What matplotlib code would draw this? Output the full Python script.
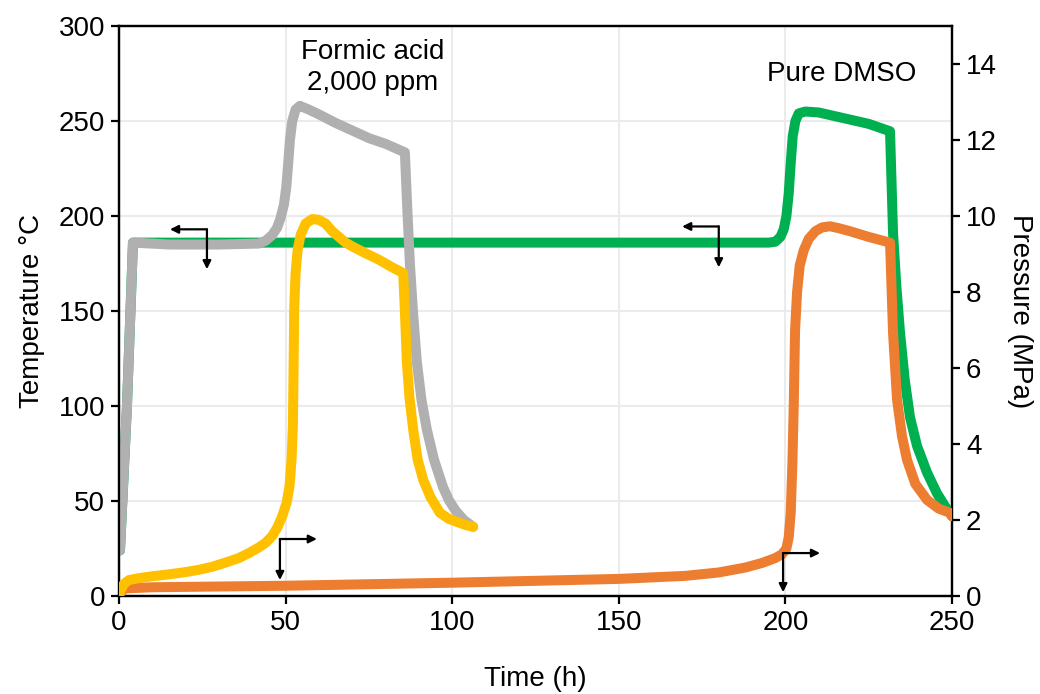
import matplotlib
matplotlib.use("Agg")
import matplotlib.pyplot as plt

# ---------------- data ----------------
# Formic acid 2,000 ppm - temperature (°C)
fa_temp_t = [0.3, 2.4, 4.2, 15, 30, 42, 44, 46, 47.5, 48.5, 49.5, 50.2, 50.8, 51.3, 52, 53, 54.3,
             57, 60, 65, 70, 75, 80, 85.8,
             86.5, 87.3, 88.3, 89.4, 90.8, 92.4, 94.5, 97.2, 99, 101, 103.5, 106.3]
fa_temp_v = [24, 100, 186, 185, 185, 185.5, 187, 190, 194, 199, 206, 215, 228, 240, 250, 256, 258,
             256, 253.5, 249, 245, 241, 238, 233.5,
             205, 175, 148, 123, 103, 87.5, 72, 57.5, 50.5, 45, 40, 36.4]
# Formic acid 2,000 ppm - pressure (MPa)
fa_pres_t = [0, 0.5, 1.5, 3, 6, 10, 15, 20, 24, 28, 32, 36, 39, 42, 44, 46, 47.5, 49, 50.3, 51.2,
             51.8, 52.2, 52.4, 52.6, 53.0, 53.6, 54.5, 56, 58, 60, 62, 64, 66, 68, 70, 74, 78, 82,
             85.3, 85.8, 86.4, 87.2, 88.3, 89.6, 91.3, 93.5, 96.3, 99, 101.4, 104, 106.3]
fa_pres_v = [0.0, 0.15, 0.32, 0.42, 0.47, 0.52, 0.57, 0.63, 0.69, 0.77, 0.88, 1.0, 1.13, 1.28, 1.4,
             1.58, 1.8, 2.1, 2.45, 2.9, 3.6, 4.5, 6.0, 7.6, 8.5, 9.1, 9.5, 9.8, 9.92, 9.9, 9.8, 9.6,
             9.45, 9.3, 9.2, 9.02, 8.85, 8.65,
             8.5, 7.5, 6.14, 5.2, 4.38, 3.6, 3.06, 2.6, 2.19, 2.03, 1.95, 1.87, 1.82]
# Pure DMSO - temperature (°C)
dm_temp_t = [0.3, 2.4, 4.2, 50, 100, 150, 195, 197, 198.5, 199.5, 200.3, 201, 201.6, 202.2, 203,
             204, 206, 210, 215, 220, 225, 231.4,
             232.3, 233.3, 234.4, 235.8, 237.4, 239.5, 242.5, 245.5, 248, 250]
dm_temp_v = [24, 100, 186, 186, 186, 186, 186, 186.5, 189, 193, 200, 212, 228, 242, 250,
             254, 255, 254.5, 252.5, 250.5, 248.5, 244.6,
             191, 163, 138.6, 114, 94, 79, 65, 54, 47, 42]
# Pure DMSO - pressure (MPa)
dm_pres_t = [0, 0.5, 2, 10, 50, 100, 150, 170, 180, 188, 193, 197, 199, 200.3, 201, 201.6, 202.1,
             202.5, 202.9, 203.5, 204.3, 205.5, 207, 209, 211, 213.4, 216, 219.4, 225, 231.4,
             232.3, 233.5, 235, 236.5, 239, 242.5, 246, 249.4, 250]
dm_pres_v = [0.0, 0.12, 0.2, 0.23, 0.27, 0.35, 0.45, 0.53, 0.62, 0.75, 0.87, 1.0, 1.1, 1.25, 1.55,
             2.2, 3.5, 5.0, 7.0, 8.0, 8.7, 9.1, 9.4, 9.6, 9.7, 9.73, 9.68, 9.6, 9.45, 9.3,
             6.93, 5.17, 4.2, 3.58, 2.95, 2.53, 2.3, 2.19, 2.1]

x_ticks = [0, 50, 100, 150, 200, 250]
t_ticks = [0, 50, 100, 150, 200, 250, 300]
p_ticks = [0, 2, 4, 6, 8, 10, 12, 14]

# ---------------- style ----------------
plt.rcParams["font.family"] = ["Liberation Sans", "DejaVu Sans"]
FS = 20

c_gray = "#b0b0b0"
c_yellow = "#ffc000"
c_green = "#00b050"
c_orange = "#ed7d31"
grid_c = "#ebebeb"

fig = plt.figure(figsize=(10.4, 6.94), dpi=100)
ax1 = fig.add_axes([0.1144, 0.1412, 0.8010, 0.8213])
ax2 = ax1.twinx()

lw = 7.2
kw = dict(solid_capstyle="round", solid_joinstyle="round")
ax1.plot(dm_temp_t, dm_temp_v, color=c_green, lw=lw, zorder=3, **kw)
ax1.plot(fa_temp_t, fa_temp_v, color=c_gray, lw=lw, zorder=4, **kw)
ax2.plot(dm_pres_t, dm_pres_v, color=c_orange, lw=lw, zorder=3, **kw)
ax2.plot(fa_pres_t, fa_pres_v, color=c_yellow, lw=lw, zorder=4, **kw)

ax1.set_xlim(0, 250)
ax1.set_ylim(0, 300)
ax2.set_ylim(0, 15)
ax1.set_xticks(x_ticks)
ax1.set_yticks(t_ticks)
ax2.set_yticks(p_ticks)
ax1.set_xticklabels([str(v) for v in x_ticks])
ax1.set_yticklabels([str(v) for v in t_ticks])
ax2.set_yticklabels([str(v) for v in p_ticks])

ax1.grid(True, color=grid_c, lw=1.5, zorder=0)
ax1.set_axisbelow(True)

for ax in (ax1, ax2):
    for s in ax.spines.values():
        s.set_color("black")
        s.set_linewidth(1.6)
    ax.tick_params(labelsize=FS, width=1.6, length=6, direction="out", colors="black", pad=4)

ax1.set_xlabel("Time (h)", fontsize=FS, labelpad=22)
ax1.set_ylabel("Temperature °C", fontsize=FS, labelpad=10)
ax2.set_ylabel("Pressure (MPa)", fontsize=FS, rotation=270, labelpad=26)

# annotations
ax1.text(76, 278, "Formic acid\n2,000 ppm", fontsize=FS, ha="center", va="center",
         linespacing=1.25)
ax1.text(217, 274.7, "Pure DMSO", fontsize=FS, ha="center", va="center")

ap = dict(arrowstyle="-|>", color="black", lw=1.6, mutation_scale=12, shrinkA=0, shrinkB=0)

def bent(ax, corner, tip_h, tip_v):
    ax.annotate("", xy=(tip_h, corner[1]), xytext=corner, arrowprops=ap, zorder=6)
    ax.annotate("", xy=(corner[0], tip_v), xytext=corner, arrowprops=ap, zorder=6)

bent(ax1, (26.4, 193), 15.3, 172)
bent(ax1, (180, 194.5), 169, 173)
bent(ax2, (48.3, 1.5), 59.4, 0.42)
bent(ax2, (199.3, 1.13), 210.4, 0.1)

fig.savefig("out.png", dpi=100)
